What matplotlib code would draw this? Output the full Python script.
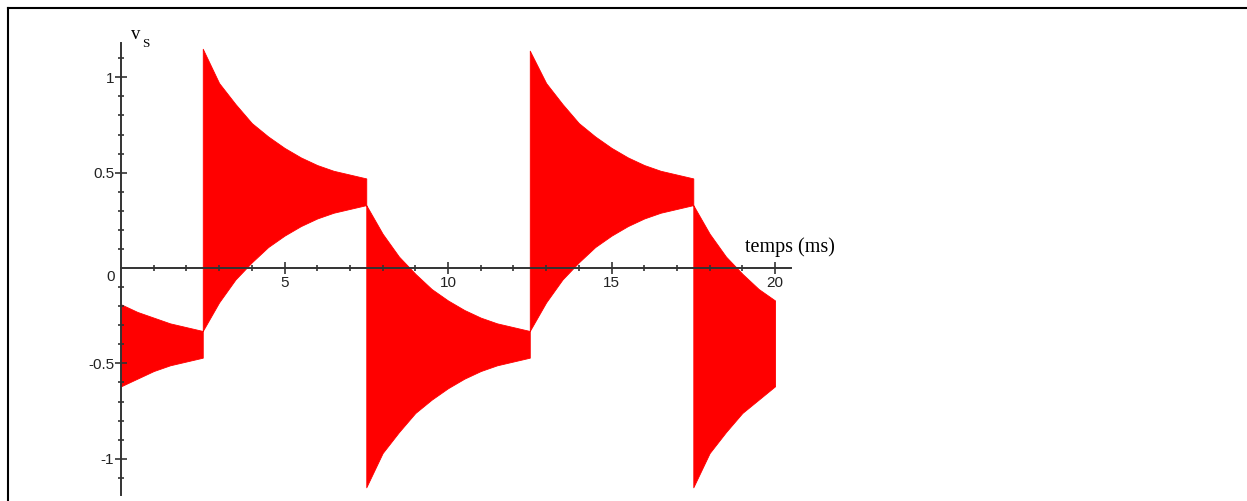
import matplotlib
matplotlib.use('Agg')
import matplotlib.pyplot as plt
from matplotlib.lines import Line2D

# envelope of the red signal, one list per segment
t_a = [0, 0.5, 1, 1.5, 2, 2.5]
up_a = [-0.19, -0.23, -0.26, -0.29, -0.31, -0.33]
lo_a = [-0.62, -0.58, -0.54, -0.51, -0.49, -0.47]

t_b = [2.5, 3, 3.5, 4, 4.5, 5, 5.5, 6, 6.5, 7, 7.5]
up_b = [1.15, 0.97, 0.86, 0.76, 0.69, 0.63, 0.58, 0.54, 0.51, 0.49, 0.47]
lo_b = [-0.33, -0.18, -0.06, 0.03, 0.11, 0.17, 0.22, 0.26, 0.29, 0.31, 0.33]

t_c = [7.5, 8, 8.5, 9, 9.5, 10, 10.5, 11, 11.5, 12, 12.5]
up_c = [0.33, 0.18, 0.06, -0.03, -0.11, -0.17, -0.22, -0.26, -0.29, -0.31, -0.33]
lo_c = [-1.15, -0.97, -0.86, -0.76, -0.69, -0.63, -0.58, -0.54, -0.51, -0.49, -0.47]

t_d = [12.5, 13, 13.5, 14, 14.5, 15, 15.5, 16, 16.5, 17, 17.5]
up_d = [1.14, 0.97, 0.86, 0.76, 0.69, 0.63, 0.58, 0.54, 0.51, 0.49, 0.47]
lo_d = [-0.33, -0.18, -0.06, 0.03, 0.11, 0.17, 0.22, 0.26, 0.29, 0.31, 0.33]

t_e = [17.5, 18, 18.5, 19, 19.5, 20]
up_e = [0.33, 0.18, 0.06, -0.03, -0.11, -0.17]
lo_e = [-1.15, -0.97, -0.86, -0.76, -0.69, -0.62]

x_ticks = [5, 10, 15, 20]
y_ticks = [-1, -0.5, 0.5, 1]
y_labels = ['-1', '-0.5', '0.5', '1']

W, H = 1247, 501
AX_COL = '#333333'

fig = plt.figure(figsize=(W / 100, H / 100), dpi=100)
ax = fig.add_axes([121 / W, 6 / H, 670.4 / W, 452 / H])
ax.set_xlim(0, 20.5)
ax.set_ylim(-1.19, 1.18)

t = t_a + t_b + t_c + t_d + t_e
up = up_a + up_b + up_c + up_d + up_e
lo = lo_a + lo_b + lo_c + lo_d + lo_e
ax.fill_between(t, lo, up, color='#ff0000', linewidth=0.6, edgecolor='#ff0000', zorder=1)

for s in ['top', 'right']:
    ax.spines[s].set_visible(False)
for s in ['left', 'bottom']:
    ax.spines[s].set_position(('data', 0))
    ax.spines[s].set_color(AX_COL)
    ax.spines[s].set_linewidth(1.4)
    ax.spines[s].set_zorder(3)

ax.set_xticks(x_ticks)
ax.set_xticklabels([str(v) for v in x_ticks])
ax.set_xticks(range(1, 21), minor=True)
ax.set_yticks(y_ticks)
ax.set_yticklabels(y_labels)
ax.set_yticks([v / 10 for v in range(-11, 12) if v != 0], minor=True)

ax.tick_params(which='major', direction='inout', length=8, width=1.2, color=AX_COL,
               labelsize=11, labelcolor='#222222', pad=1)
ax.tick_params(which='minor', direction='inout', length=5, width=1.2, color=AX_COL)
ax.tick_params(axis='x', which='major', pad=2)
for lab in ax.get_xticklabels() + ax.get_yticklabels():
    lab.set_fontfamily('Liberation Sans')

ax.annotate('0', (0, 0), xytext=(-6, -9), textcoords='offset pixels', ha='right', va='center',
            fontsize=11, family='Liberation Sans', color='#222222')

ax.text(19.08, 0.084, 'temps (ms)', fontsize=14.5, family='Liberation Serif', va='baseline')
ax.text(0.32, 1.20, 'v', fontsize=13.5, family='Liberation Serif', va='baseline', clip_on=False)
ax.text(0.64, 1.160, 'S', fontsize=9.5, family='Liberation Serif', va='baseline', clip_on=False)

# frame round the picture (only left and top are inside the image)
fig.add_artist(Line2D([8 / W, 8 / W], [0, 1 - 8 / H], transform=fig.transFigure, color='k', lw=1.5))
fig.add_artist(Line2D([8 / W, 1], [1 - 8 / H, 1 - 8 / H], transform=fig.transFigure, color='k', lw=1.5))

fig.savefig('out.png', dpi=100)
